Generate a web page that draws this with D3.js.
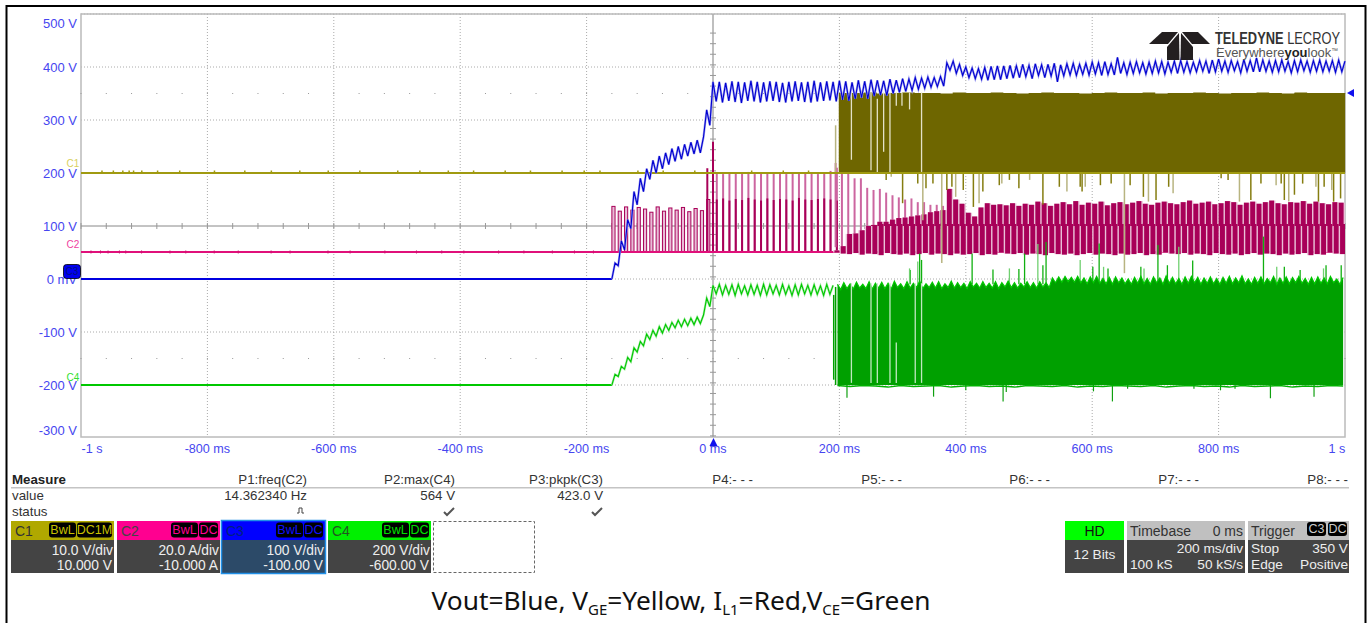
<!DOCTYPE html>
<html><head><meta charset="utf-8"><script src="https://cdn.jsdelivr.net/npm/d3@7"></script>
<style>html,body{margin:0;background:#fff;overflow:hidden}text{font-family:"Liberation Sans",Arial,sans-serif}</style></head>
<body><svg id="c" width="1370" height="623"></svg>
<script>
// ---- tick labels
const yTicks=[500,400,300,200,100,0,-100,-200,-300];
const yTickLabels=["500 V","400 V","300 V","200 V","100 V","0 mV","-100 V","-200 V","-300 V"];
const xTicks=[-1000,-800,-600,-400,-200,0,200,400,600,800,1000];
const xTickLabels=["-1 s","-800 ms","-600 ms","-400 ms","-200 ms","0 ms","200 ms","400 ms","600 ms","800 ms","1 s"];
// ---- C3 blue, Vout (V): flat, staircase rise (5 ms samples from -160 ms), ripple (5 ms samples from 0)
const blueFlat=[0,0];
const blueRise=[0,30,25,72,55,112,95,165,140,190,165,208,188,224,200,232,208,238,216,246,222,250,226,254,232,258,236,262,238,268,319,290];
const blueRun=[372,335,372,333,370,336,373,334,372,332,371,336,374,335,372,333,371,335,373,336,372,334,370,333,372,335,373,336,371,334,372,333,374,335,371,336,373,337,372,335,374,338,373,336,371,340,375,342,373,340,376,345,375,347,374,346,377,350,375,352,378,354,377,356,380,358,379,360,381,362,380,363,382,364,
408,394,411,388,405,384,400,380,398,378,397,377,399,375,401,376,402,376,402,378,403,379,402,380,405,382,403,378,406,384,404,380,405,383,407,372,404,383,406,385,407,384,405,386,407,385,409,387,408,384,410,386,406,385,418,388,408,386,409,388,410,389,408,387,409,388,411,389,410,387,409,390,411,388,412,390,410,389,409,391,412,392,411,388,413,391,415,392,411,390,412,393,410,389,414,392,412,391,417,391,413,392,411,390,412,391,413,392,410,389,412,391,413,393,411,390,412,392,413,391,411,392,412,390,413,391,411,392,410,389,412,393,411,391,412,390];
// ---- C4 green, VCE (V)
const greenFlat=[-200,-200];
const greenRise=[-200,-180,-184,-165,-170,-148,-156,-130,-138,-118,-126,-104,-114,-97,-108,-90,-102,-86,-97,-82,-92,-78,-90,-76,-88,-74,-86,-72,-84,-68,-36,-52];
const greenRun=[-12,-28,-10,-30,-12,-29,-11,-31,-10,-28,-13,-30,-11,-29,-12,-31,-10,-30,-11,-28,-12,-30,-10,-29,-13,-31,-11,-30,-10,-28,-12,-30,-11,-29,-13,-31,-10,-29,-12];
const greenBandTop=[-10,-20,-7,-18,-9,-19,-6,-17,-10,-18,-5,-19,-8,-17,-6,-18,-8,-19,-4,-16,-9,-18,-5,-17,-8,-16,-4,-18,-9,-16,-6,-17,-5,-18,-9,-16,-4,-17,-7,-16,-8,-18,-5,-15,-8,-17,-5,-16,-8,-17,-5,-18,-7,-15,-4,-16,-7,-17,-8,-15,-5,-16,-7,-17,-5,-15,-7,-16,
2,-7,4,-6,5,-5,3,-6,5,-7,2,-9,4,-7,5,-8,1,-9,3,-10,4,-7,2,-9,0,-10,3,-8,5,-9,1,-10,4,-7,2,-10,6,-8,3,-9,1,-10,4,-8,5,-7,3,-10,2,-8,4,-9,1,-10,3,-8,5,-9,2,-7,6,-9,0,-10,3,-8,4,-9,1,-7,5,-10,2,-8,4,-9,3,-7,5,-8,1,-10,3,-9,4,-8,2,-9,5,-7,0,-10,3,-8,6,-9,1,-8,4,-9,2];
const greenBandBottom=[-201,-203,-201,-202,-204,-201,-203,-202,-201,-204,-202,-201,-203,-202,-204,-201,-202,-203,-201,-204,-202,-203,-201,-202,-203,-201,-204,-202,-201,-203,-202,-204,-201,-203,-202,-201,-204,-202,-203,-201,-202];
const greenUpT=[312,324,327,330,311,410,443,469,484,493,514,522,527,581,601,611,618,625,677,682,704,719,737,759,871,892,904,929,966,970,994];
const greenUpV=[17,33,48,36,20,48,18,20,19,48,66,26,70,36,23,67,23,20,23,20,64,26,61,35,80,23,23,17,20,26,26];
const greenDownT=[212,349,400,459,464,602,632,656,761,803,826,882,951];
const greenDownV=[-224,-222,-210,-231,-213,-212,-231,-207,-207,-210,-207,-225,-222];
const greenGapT=[219,250,260,280,290,320,330];
const greenGapHi=[-8,-8,-8,-8,-120,-8,-8];
const greenGapLo=[-196,-196,-196,-196,-196,-196,-196];
// ---- C1 yellow, VGE
const yellowFlat=[200,200];
const yellowBandTop=[351,351,352,350,351,352,351,351,350,352,351,351,352,351,350,351,352,351,351,350,351,352,351,351,352,350,351,351,352,351,350,351,351,352,351,350,352,351,351,351,350];
const yellowGapT=[219,250,260,270,280,290,299,311,330];
const yellowGapHi=[352,352,340,352,352,352,352,352,352];
const yellowGapLo=[225,205,200,240,200,327,327,320,202];
const yellowDownT=[274,282,300,324,332,337,348,362,370,378,384,396,412,421,427,453,457,469,484,501,522,548,560,581,584,589,613,630,651,660,681,689,701,721,728,804,815,833,851,867,891,899,904,911,920,933,954,958,967,979,982,993];
const yellowDownV=[187,193,143,180,111,171,180,30,168,174,155,168,136,143,165,177,180,187,171,187,140,174,165,174,165,174,177,180,11,177,155,146,149,174,162,190,187,146,149,180,177,180,149,146,159,180,174,146,174,168,146,152];
const yellowSpeckT=[-968,-950,-935,-925,-918,-905,-880,-845,-790,-742,-700,-655,-610,-560,-500,-465,-420,-380,-330,-290,-240,-205,-180,-120,-80,-30,60,110,150];
// ---- C2 red, IL1
const redFlat=[51,51];
const redPulseTop=[137,128,136,130,135,132,126,136,128,134,130,135,127,133,129,150];
const redSpikeT=[-9,0];
const redSpikeV=[209,259];
const redCore=[150,152,148,151,149,153,150,148,152,149,151,150,148,153,150,149,151,152,150,148];
const redTip=[200,198,201,199,200,202,198,200,199,201,200,198,200,199,201,200,198,200,204,210];
const redBandTop=[54,62,85,86,92,100,102,108,108,112,115,116,118,120,122,126,128,130,170,150,142,125,118,135,143,140,
141,139,143,138,142,140,146,143,138,142,145,141,147,140,144,142,146,139,143,145,141,144,147,142,140,144,146,143,141,145,148,142,144,146,141,143,147,145,140,144,146,142,145,148,143,141,145,144,147,142,146,143,141,145,144];
const redBandTip=[219,205,208,190,190,172,168,170,163,158,154,150,152,145,145,140,140,138];
const redBandLow=[50,48,47,49,46,48,47,45,49,47,46,48,45,47,49,46,48,47,45,48,46,47,49,45,47,46];
const redSpeckT=[-985,-970,-958,-940,-930,-905,-860,-835,-790,-752,-700,-670,-610,-575,-520,-470,-430,-395,-340,-300,-255,-220,-190];
// ---- measurement and channel readouts
const measureHeads=["P1:freq(C2)","P2:max(C4)","P3:pkpk(C3)","P4:- - -","P5:- - -","P6:- - -","P7:- - -","P8:- - -"];
const measureVals=["14.362340 Hz","564 V","423.0 V"];
const chanNames=["C1","C2","C3","C4"];
const chanBadges=[["BwL","DC1M"],["BwL","DC"],["BwL","DC"],["BwL","DC"]];
const chanScale=["10.0 V/div","20.0 A/div","100 V/div","200 V/div"];
const chanOffset=["10.000 V","-10.000 A","-100.00 V","-600.00 V"];

const x=d3.scaleLinear([-1000,1000],[81,1345]);
const y=d3.scaleLinear([0,400],[279,67]);
const svg=d3.select("#c");
const g=svg.append("g");
const tRise=d3.range(blueRise.length).map(i=>-160+i*5);
const tRun=d3.range(blueRun.length).map(i=>i*5);
const line=d3.line().x(d=>x(d[0])).y(d=>y(d[1]));
const zip=(a,b)=>a.map((v,i)=>[v,b[i]]);
const COL={blue:"#0000d0",green:"#00c800",greenD:"#00a000",yel:"#a09a10",yelD:"#6e6600",red:"#e0107a",redD:"#a80058",redL:"#cc66a0"};

// outer frame
svg.append("rect").attr("x",6.5).attr("y",6).attr("width",1359).attr("height",630).attr("fill","none").attr("stroke","#000").attr("stroke-width",2);
// graticule
const ly=[500,400,300,200,0,-100,-200];
g.selectAll("line.h").data(ly).join("line").attr("x1",x(-1000)).attr("x2",x(1000)).attr("y1",d=>y(d)).attr("y2",d=>y(d)).attr("stroke","#aaa").attr("stroke-dasharray","1 2");
g.selectAll("line.v").data(xTicks.slice(1,-1).filter(d=>d!==0)).join("line").attr("x1",d=>x(d)).attr("x2",d=>x(d)).attr("y1",14).attr("y2",437).attr("stroke","#aaa").attr("stroke-dasharray","1 2");
g.append("rect").attr("x",81).attr("y",14).attr("width",1264).attr("height",423).attr("fill","none").attr("stroke","#bbb").attr("stroke-width",1.5);
g.append("line").attr("x1",81).attr("x2",1345).attr("y1",y(100)).attr("y2",y(100)).attr("stroke","#888");
g.append("line").attr("x1",x(0)).attr("x2",x(0)).attr("y1",14).attr("y2",437).attr("stroke","#aaa").attr("stroke-width",1.5);
const minorX=d3.range(-1000,1001,40), minorY=d3.range(-316,484,20);
g.selectAll("line.mx").data(minorX).join("line").attr("x1",d=>x(d)).attr("x2",d=>x(d)).attr("y1",y(100)-3).attr("y2",y(100)+3).attr("stroke","#999");
g.selectAll("line.my").data(minorY).join("line").attr("x1",x(0)-3).attr("x2",x(0)+3).attr("y1",d=>y(d)).attr("y2",d=>y(d)).attr("stroke","#999");
[y(100)-132.5,y(100)+132.5].forEach(py=>{g.selectAll(null).data(minorX).join("rect").attr("x",d=>x(d)-.5).attr("y",py-.5).attr("width",1).attr("height",1).attr("fill","#999");});

// axis labels
const axisCol="#4646f0";
svg.selectAll("text.yl").data(yTicks).join("text").attr("x",77).attr("y",d=>Math.min(430,Math.max(23,y(d)))+4.5).attr("text-anchor","end").attr("font-size",13).attr("fill",axisCol).text((d,i)=>yTickLabels[i]);
svg.selectAll("text.xl").data(xTicks).join("text").attr("x",d=>Math.min(1337,Math.max(92,x(d)))).attr("y",453).attr("text-anchor","middle").attr("font-size",12.6).attr("fill",axisCol).text((d,i)=>xTickLabels[i]);

// red trace
const rg=svg.append("g");
const periods=d3.range(redPulseTop.length).map(i=>-160+i*10);
rg.selectAll(null).data(periods).join("rect").attr("x",d=>x(d)).attr("width",x(5)-x(0)).attr("y",(d,i)=>y(redPulseTop[i])).attr("height",(d,i)=>y(52)-y(redPulseTop[i])).attr("fill","#e8bcd6").attr("stroke",COL.redD).attr("stroke-width",1);
rg.selectAll(null).data(redSpikeT).join("line").attr("x1",d=>x(d)).attr("x2",d=>x(d)).attr("y1",y(51)).attr("y2",(d,i)=>y(redSpikeV[i])).attr("stroke",COL.redD).attr("stroke-width",2);
const s2=d3.range(redCore.length).map(i=>i*10);
rg.selectAll(null).data(s2).join("line").attr("x1",d=>x(d+6)).attr("x2",d=>x(d+6)).attr("y1",y(51)).attr("y2",(d,i)=>y(redTip[i])).attr("stroke",COL.redL).attr("stroke-width",2);
rg.selectAll(null).data(s2).join("line").attr("x1",d=>x(d+6)).attr("x2",d=>x(d+6)).attr("y1",y(51)).attr("y2",(d,i)=>y(redCore[i])).attr("stroke",COL.redD).attr("stroke-width",2);
rg.append("path").attr("d",line(zip([-1000,1000],redFlat))).attr("stroke",COL.red).attr("stroke-width",2).attr("fill","none");
rg.selectAll(null).data(redSpeckT).join("rect").attr("x",d=>x(d)).attr("y",y(51)-1.5).attr("width",1).attr("height",3).attr("fill","#d01070");
const s3=d3.range(redBandTop.length).map(i=>190+i*10);
const low=i=>redBandLow[i%redBandLow.length];
rg.selectAll(null).data(redBandTip).join("line").attr("x1",(d,i)=>x(s3[i]+4)).attr("x2",(d,i)=>x(s3[i]+4)).attr("y1",y(60)).attr("y2",d=>y(d)).attr("stroke",COL.redL).attr("stroke-width",2);
rg.selectAll(null).data(redBandTop).join("rect").attr("x",(d,i)=>x(s3[i])).attr("width",x(10)-x(0)).attr("y",d=>y(d)).attr("height",(d,i)=>y(low(i))-y(d)).attr("fill","#eac0d8");
rg.selectAll(null).data(redBandTop).join("rect").attr("x",(d,i)=>x(s3[i])).attr("width",x(7.8)-x(0)).attr("y",d=>y(d)).attr("height",d=>Math.max(0,y(100)-y(d))).attr("fill",COL.redD);
rg.selectAll(null).data(redBandTop).join("rect").attr("x",(d,i)=>x(s3[i]+2.2)).attr("width",x(7.8)-x(0)).attr("y",d=>Math.max(y(d),y(100)-2)).attr("height",(d,i)=>y(low(i))-Math.max(y(d),y(100)-2)).attr("fill",COL.redD);

// yellow trace
const yg=svg.append("g");
const ya=d3.area().curve(d3.curveStepAfter).x(d=>x(d[0])).y0(y(200)).y1(d=>y(d[1]));
const yTop=yellowBandTop.map((v,i)=>[199+i*20.03,v]);
yg.selectAll(null).data(yellowDownT).join("line").attr("x1",d=>x(d)).attr("x2",d=>x(d)).attr("y1",y(199)).attr("y2",(d,i)=>y(yellowDownV[i])).attr("stroke",(d,i)=>i%3==1?"#b8b480":"#857d10").attr("stroke-width",1.5);
yg.append("line").attr("x1",x(194)).attr("x2",x(194)).attr("y1",y(200)).attr("y2",y(290)).attr("stroke","#b8b480").attr("stroke-width",1.5);
yg.append("path").attr("d",ya(yTop)).attr("fill",COL.yelD);
yg.selectAll(null).data(yellowGapT).join("line").attr("x1",d=>x(d)).attr("x2",d=>x(d)).attr("y1",(d,i)=>y(yellowGapHi[i])).attr("y2",(d,i)=>y(yellowGapLo[i])).attr("stroke","#e4e2c8").attr("stroke-width",1.3);
yg.append("path").attr("d",line(zip([-1000,1000],yellowFlat))).attr("stroke",COL.yel).attr("stroke-width",2.2).attr("fill","none");
yg.selectAll(null).data(yellowSpeckT).join("rect").attr("x",d=>x(d)).attr("y",y(200)-2.5).attr("width",1.5).attr("height",2).attr("fill",COL.yel);

// green trace
const gg=svg.append("g");
gg.selectAll(null).data(greenUpT).join("line").attr("x1",d=>x(d)).attr("x2",d=>x(d)).attr("y1",y(-10)).attr("y2",(d,i)=>y(greenUpV[i])).attr("stroke",(d,i)=>i%3==1?"#70d070":"#10b010").attr("stroke-width",1.3);
gg.selectAll(null).data(greenDownT).join("line").attr("x1",d=>x(d)).attr("x2",d=>x(d)).attr("y1",y(-198)).attr("y2",(d,i)=>y(greenDownV[i])).attr("stroke","#10a010").attr("stroke-width",1.2);
const gTop=greenBandTop.map((v,i)=>[197+i*5,v]).filter(d=>d[0]<=1000);
const gBot=greenBandBottom.map((v,i)=>[197+i*20,v]).filter(d=>d[0]<=1000);
gg.append("path").attr("d",d3.area().x(d=>x(d[0])).y1(d=>y(d[1])).y0(y(-200))(gTop)).attr("fill",COL.greenD);
gg.append("path").attr("d",line(gTop)).attr("fill","none").attr("stroke",COL.green).attr("stroke-width",1.2);
gg.append("path").attr("d",line(gBot)).attr("fill","none").attr("stroke","#00b000").attr("stroke-width",1.5);
gg.selectAll(null).data(greenGapT).join("line").attr("x1",d=>x(d)).attr("x2",d=>x(d)).attr("y1",(d,i)=>y(greenGapHi[i])).attr("y2",(d,i)=>y(greenGapLo[i])).attr("stroke","#c0e8c0").attr("stroke-width",1.3);
gg.append("line").attr("x1",x(191)).attr("x2",x(191)).attr("y1",y(-30)).attr("y2",y(-190)).attr("stroke",COL.greenD).attr("stroke-width",1.5);
gg.append("line").attr("x1",x(194)).attr("x2",x(194)).attr("y1",y(-15)).attr("y2",y(-200)).attr("stroke",COL.greenD).attr("stroke-width",1.5);
gg.append("path").attr("d",line([...zip([-1000,-160],greenFlat)])).attr("stroke",COL.green).attr("stroke-width",2).attr("fill","none");
const gWave=[...zip(tRise,greenRise),...zip(tRun,greenRun)];
gg.append("path").attr("d",line(gWave)).attr("stroke","#a8eca8").attr("stroke-width",2.2).attr("fill","none");
gg.append("path").attr("d",line(gWave)).attr("stroke",COL.green).attr("stroke-width",1.1).attr("fill","none");

// blue trace
const bg=svg.append("g");
const bWave=[...zip(tRise,blueRise),...zip(tRun,blueRun)].filter(d=>d[0]<=1000);
bg.append("path").attr("d",line(zip([-1000,-160],blueFlat))).attr("stroke","#0000e0").attr("stroke-width",2).attr("fill","none");
bg.append("path").attr("d",line(bWave)).attr("stroke","#a0a0f0").attr("stroke-width",2.2).attr("fill","none");
bg.append("path").attr("d",line(bWave)).attr("stroke",COL.blue).attr("stroke-width",1.1).attr("fill","none");

// channel markers
const markers=[["C1",73,167,"#d8d060"],["C2",73,248,"#f040a0"],["C4",73,381,"#30e030"]];
svg.selectAll(null).data(markers).join("text").attr("x",d=>d[1]).attr("y",d=>d[2]).attr("text-anchor","middle").attr("font-size",10).attr("fill",d=>d[3]).text(d=>d[0]);
svg.append("rect").attr("x",63.5).attr("y",264.5).attr("width",17).attr("height",14).attr("rx",3).attr("fill","#0000ee").attr("stroke","#000").attr("stroke-width",.8);
svg.append("text").attr("x",72).attr("y",275).attr("text-anchor","middle").attr("font-size",10).attr("fill","#001080").text("C3");
svg.append("path").attr("d","M1347 93 L1354 89 L1354 97Z").attr("fill","#1010ee");
svg.append("path").attr("d","M713.5 438 L709.5 446 L717.5 446Z").attr("fill","#1010ee");

// logo
const L=svg.append("g").attr("fill","#231f20");
[[[1149,44],[1162,32],[1178,32],[1168,44]],[[1210,44],[1198,32],[1182,32],[1192,44]],[[1167,47],[1179,33],[1179.5,60],[1167,60]],[[1193,47],[1181,33],[1180.5,60],[1193,60]]].forEach(p=>L.append("path").attr("d",d3.line()(p)+"Z"));
svg.append("text").attr("x",1215).attr("y",44).attr("font-size",16).attr("fill","#333").attr("textLength",125).attr("lengthAdjust","spacingAndGlyphs").html('<tspan font-weight="bold">TELEDYNE</tspan> LECROY');
svg.append("text").attr("x",1216).attr("y",57).attr("font-size",13.5).attr("fill","#555").attr("textLength",122).attr("lengthAdjust","spacingAndGlyphs").html('Everywhere<tspan font-weight="bold" fill="#222">you</tspan>look<tspan font-size="7" dy="-4">™</tspan>');

// measure table
const T=svg.append("g").attr("font-size",13.3).attr("fill","#333");
T.append("text").attr("x",12).attr("y",484).attr("font-weight","bold").attr("fill","#222").text("Measure");
T.append("text").attr("x",12).attr("y",500).text("value");
T.append("text").attr("x",12).attr("y",516).text("status");
svg.append("rect").attr("x",11).attr("y",487).attr("width",1338).attr("height",1.5).attr("fill","#c4c4c4");
const mx=[307,455,603,753,902,1050,1199,1348];
measureHeads.forEach((h,i)=>T.append("text").attr("x",mx[i]).attr("y",484).attr("text-anchor","end").text(h));
measureVals.forEach((h,i)=>T.append("text").attr("x",mx[i]).attr("y",500).attr("text-anchor","end").text(h));
[449,597].forEach(cx=>svg.append("path").attr("d",`M${cx-5} ${512} L${cx-2} ${515} L${cx+5} ${508}`).attr("fill","none").attr("stroke","#555").attr("stroke-width",2));
svg.append("path").attr("d","M297 513 H299 V508 H302 V513 H304").attr("fill","none").attr("stroke","#444");

// channel boxes
const cx0=[11,117,222,328], heads=["#b0a800","#ff0090","#0000ff","#00f000"], body=["#444","#444","#2c4a68","#444"], nameCol=["#333","#444","#002080","#225522"], badgeCol=["#c8c000","#ff0090","#1010ff","#00e000"];
chanNames.forEach((n,i)=>{
  const G=svg.append("g").attr("transform",`translate(${cx0[i]},521)`),w=103;
  G.append("rect").attr("y",19).attr("width",w).attr("height",33).attr("fill",body[i]);
  G.append("rect").attr("width",w).attr("height",19).attr("fill",heads[i]);
  if(i==2)G.append("rect").attr("x",-.5).attr("y",-.5).attr("width",w+1).attr("height",53).attr("fill","none").attr("stroke","#2090e8").attr("stroke-width",1.5);
  G.append("text").attr("x",4).attr("y",14.5).attr("font-size",14).attr("fill",nameCol[i]).text(n);
  const bs=chanBadges[i], widths=bs.map(b=>b=="DC1M"?36:b=="DC"?20:28); let xr=w-1;
  [...bs].reverse().forEach((b,j)=>{const wd=widths[bs.length-1-j];xr-=wd;
    G.append("rect").attr("x",xr).attr("y",1.5).attr("width",wd-1).attr("height",15).attr("rx",3).attr("fill","#000");
    G.append("text").attr("x",xr+(wd-1)/2).attr("y",13).attr("text-anchor","middle").attr("font-size",12.5).attr("fill",badgeCol[i]).text(b);});
  G.append("text").attr("x",w-1).attr("y",33.5).attr("text-anchor","end").attr("font-size",13.8).attr("fill","#eee").text(chanScale[i]);
  G.append("text").attr("x",w-2).attr("y",48.5).attr("text-anchor","end").attr("font-size",13.8).attr("fill","#eee").text(chanOffset[i]);
});
svg.append("rect").attr("x",433.5).attr("y",521.5).attr("width",101).attr("height",51).attr("fill","none").attr("stroke","#666").attr("stroke-dasharray","3 2");
// right boxes
const bx=(X,W,hc)=>{svg.append("rect").attr("x",X).attr("y",540).attr("width",W).attr("height",33).attr("fill","#444");svg.append("rect").attr("x",X).attr("y",521).attr("width",W).attr("height",19).attr("fill",hc);};
bx(1065,59,"#00ff00");bx(1127,118,"#c0c0c0");bx(1248,101,"#c0c0c0");
const tx=(X,Y,s,a,c,fs)=>svg.append("text").attr("x",X).attr("y",Y).attr("text-anchor",a||"start").attr("fill",c||"#eee").attr("font-size",fs||13.7).text(s);
tx(1094.5,535.5,"HD","middle","#111",14);tx(1094.5,559,"12 Bits","middle");
tx(1130,535.5,"Timebase","start","#333",14);tx(1243,535.5,"0 ms","end","#333",14);
tx(1243,552.5,"200 ms/div","end");tx(1130,568.5,"100 kS");tx(1243,568.5,"50 kS/s","end");
tx(1251,535.5,"Trigger","start","#333",14);
[[1307,"C3"],[1328,"DC"]].forEach(b=>{svg.append("rect").attr("x",b[0]).attr("y",522).attr("width",19).attr("height",14).attr("rx",3).attr("fill","#000");tx(b[0]+9.5,533,b[1],"middle","#ccc",12.5);});
tx(1251,552.5,"Stop");tx(1348,552.5,"350 V","end");tx(1251,568.5,"Edge");tx(1348,568.5,"Positive","end");

// caption
svg.append("text").attr("x",681).attr("y",610).attr("text-anchor","middle").attr("font-size",26.3).attr("fill","#111").style("font-family","'Noto Sans'").html('Vout=Blue, V<tspan font-size="15" dy="5">GE</tspan><tspan dy="-5">=Yellow, I</tspan><tspan font-size="15" dy="5">L1</tspan><tspan dy="-5">=Red,V</tspan><tspan font-size="15" dy="5">CE</tspan><tspan dy="-5">=Green</tspan>');
</script></body></html>
